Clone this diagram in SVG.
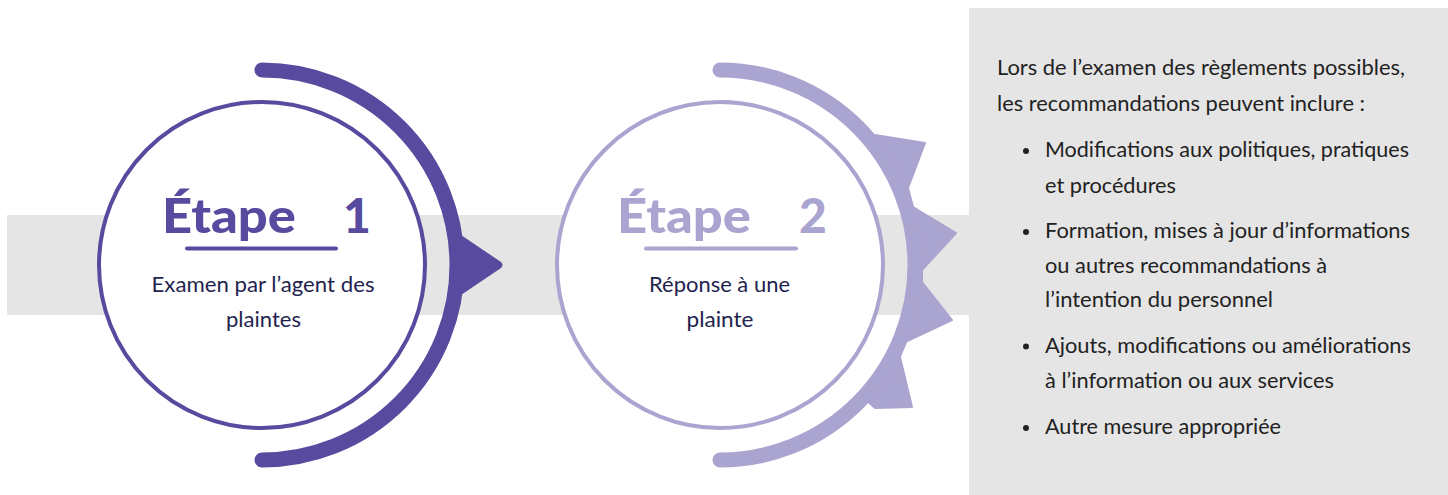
<svg xmlns="http://www.w3.org/2000/svg" width="1448" height="495" viewBox="0 0 1448 495">
<style>
.band{fill:#e5e5e5}
.dark{fill:#584a9e}
.light{fill:#aaa4d0}
.ring{fill:#ffffff;stroke-width:4}
.arc{fill:none;stroke-width:15;stroke-linecap:round}
.title{font-family:"Lato Black",Lato,"Liberation Sans",sans-serif;font-weight:900;font-size:48px}
.sub{font-family:Lato,"Liberation Sans",sans-serif;font-size:22px;fill:#231f4f;text-anchor:middle}
.body{font-family:Lato,"Liberation Sans",sans-serif;font-size:21px;fill:#222222}
.rule{stroke-width:4;stroke-linecap:round}
</style>
<rect class="band" x="7" y="215" width="962" height="100"/>
<rect class="band" x="969" y="8" width="479" height="487"/>
<g id="connectors">
<path class="dark" d="M458,233 L501,262 Q504,265 501,268 L458,297 Z"/>
<path class="light" stroke="#aaa4d0" stroke-width="2" stroke-linejoin="round" d="M875,135 L925,143 L908,188 L913,207 L956,233 L922,270 L922,282 L952,320 L905,342 L900,357 L912,407 L875,408 L859.6,393.9 A190,190 0 0 0 865.5,142.9 Z"/>
</g>
<g id="step1">
<circle class="ring" cx="262" cy="265" r="163" stroke="#584a9e"/>
<path class="arc" stroke="#584a9e" d="M262,70 A195,195 0 0 1 262,460"/>
<text class="title dark" x="162" y="233" textLength="134" lengthAdjust="spacingAndGlyphs">Étape</text>
<text class="title dark" x="343" y="233">1</text>
<line class="rule" x1="187" y1="248.5" x2="336" y2="248.5" stroke="#584a9e"/>
<text class="sub" x="263" y="292" textLength="223" lengthAdjust="spacingAndGlyphs">Examen par l’agent des</text>
<text class="sub" x="263.5" y="327" textLength="75" lengthAdjust="spacingAndGlyphs">plaintes</text>
</g>
<g id="step2">
<circle class="ring" cx="720" cy="265" r="163" stroke="#aaa4d0"/>
<path class="arc" stroke="#aaa4d0" d="M720,70 A195,195 0 0 1 720,460"/>
<text class="title light" x="617" y="233" textLength="134" lengthAdjust="spacingAndGlyphs">Étape</text>
<text class="title light" x="799" y="233">2</text>
<line class="rule" x1="646" y1="248.5" x2="796" y2="248.5" stroke="#aaa4d0"/>
<text class="sub" x="719.5" y="292" textLength="141" lengthAdjust="spacingAndGlyphs">Réponse à une</text>
<text class="sub" x="720" y="327" textLength="67" lengthAdjust="spacingAndGlyphs">plainte</text>
</g>
<g id="panel">
<text class="body" x="997" y="75" textLength="408" lengthAdjust="spacingAndGlyphs">Lors de l’examen des règlements possibles,</text>
<text class="body" x="997" y="110.5" textLength="368" lengthAdjust="spacingAndGlyphs">les recommandations peuvent inclure :</text>
<g fill="#222222">
<circle cx="1026" cy="151" r="3"/>
<circle cx="1026" cy="232" r="3"/>
<circle cx="1026" cy="346.5" r="3"/>
<circle cx="1026" cy="428" r="3"/>
</g>
<text class="body" x="1045" y="157.3" textLength="364" lengthAdjust="spacingAndGlyphs">Modifications aux politiques, pratiques</text>
<text class="body" x="1045" y="192.7" textLength="131" lengthAdjust="spacingAndGlyphs">et procédures</text>
<text class="body" x="1045" y="238.3" textLength="365" lengthAdjust="spacingAndGlyphs">Formation, mises à jour d’informations</text>
<text class="body" x="1045" y="273.3" textLength="282" lengthAdjust="spacingAndGlyphs">ou autres recommandations à</text>
<text class="body" x="1045" y="307.3" textLength="228" lengthAdjust="spacingAndGlyphs">l’intention du personnel</text>
<text class="body" x="1045" y="352.7" textLength="366" lengthAdjust="spacingAndGlyphs">Ajouts, modifications ou améliorations</text>
<text class="body" x="1045" y="388.3" textLength="289" lengthAdjust="spacingAndGlyphs">à l’information ou aux services</text>
<text class="body" x="1045" y="434" textLength="236" lengthAdjust="spacingAndGlyphs">Autre mesure appropriée</text>
</g>
</svg>
